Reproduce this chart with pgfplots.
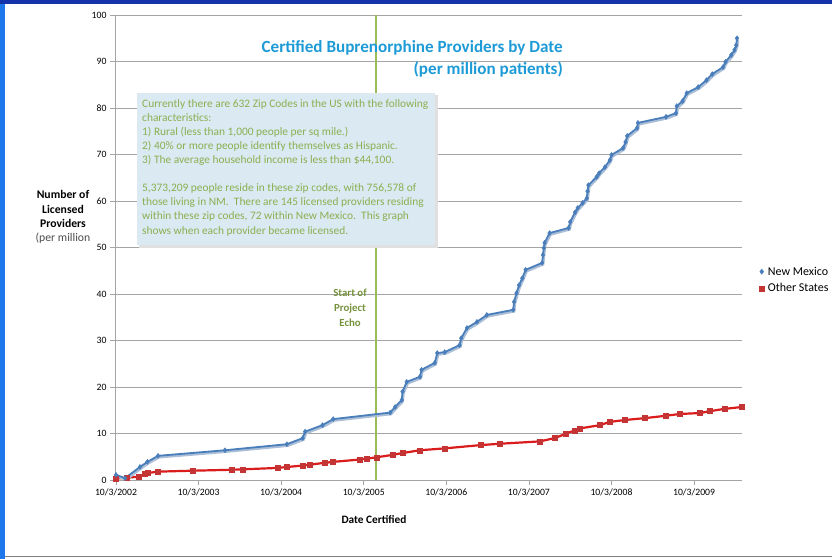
\documentclass[border=0pt]{standalone}
\usepackage{pgfplots}
\pgfplotsset{compat=1.18}
\usepackage{fontspec}
\setmainfont{Carlito}
\definecolor{nmblue}{RGB}{74,126,187}
\definecolor{nmshadow}{RGB}{170,190,215}
\definecolor{osred}{RGB}{218,28,28}
\definecolor{osmark}{RGB}{196,52,52}
\definecolor{echogreen}{RGB}{155,187,89}
\definecolor{echotext}{RGB}{118,146,60}
\definecolor{textgreen}{RGB}{140,175,80}
\definecolor{boxblue}{RGB}{218,233,242}
\definecolor{titleblue}{RGB}{30,155,215}
\definecolor{gridgray}{RGB}{165,165,165}
\definecolor{framedark}{RGB}{20,50,170}
\definecolor{frameblue}{RGB}{30,120,235}
\pgfplotstableread{
t v
0.00 1.1
0.11 0.4
0.29 2.8
0.38 3.9
0.51 5.2
1.32 6.4
2.07 7.7
2.26 9.0
2.29 10.4
2.50 11.8
2.63 13.1
3.32 14.5
3.38 15.7
3.46 17.2
3.47 19.0
3.52 21.1
3.68 22.2
3.70 23.7
3.86 25.2
3.89 27.3
3.98 27.5
4.16 29.0
4.18 30.5
4.25 32.7
4.37 34.0
4.49 35.5
4.81 36.6
4.82 38.3
4.85 40.2
4.88 41.9
4.92 43.4
4.96 45.2
5.16 46.7
5.17 48.4
5.18 49.9
5.19 51.0
5.25 53.1
5.48 54.2
5.50 55.5
5.56 57.6
5.59 58.5
5.65 59.6
5.70 60.6
5.71 62.1
5.72 63.4
5.82 65.2
5.85 66.0
5.92 67.3
5.98 68.8
6.00 69.9
6.14 71.4
6.17 72.7
6.19 74.0
6.31 75.7
6.32 76.8
6.66 78.1
6.78 78.9
6.79 80.4
6.86 81.5
6.91 83.2
7.05 84.5
7.15 86.0
7.22 87.3
7.35 88.8
7.38 89.9
7.45 91.4
7.49 92.5
7.51 93.5
7.52 95.0
}\nmdata
\pgfplotstableread{
t v
0.00 0.3
0.13 0.5
0.27 0.7
0.35 1.3
0.38 1.5
0.51 1.8
0.93 2.0
1.40 2.2
1.54 2.3
1.96 2.6
2.07 2.8
2.26 3.1
2.35 3.3
2.53 3.7
2.63 3.9
2.95 4.4
3.04 4.6
3.16 4.9
3.35 5.4
3.47 5.8
3.68 6.4
3.98 6.8
4.41 7.5
4.65 7.8
5.13 8.3
5.31 9.0
5.44 9.9
5.56 10.7
5.62 11.1
5.86 11.8
5.98 12.5
6.16 12.9
6.40 13.3
6.65 13.8
6.83 14.2
7.07 14.4
7.19 14.8
7.37 15.3
7.58 15.7
}\osdata
\begin{document}
\begin{tikzpicture}
\useasboundingbox (0,0) rectangle (832pt,-559pt);
\fill[white] (0,0) rectangle (832pt,-559pt);
\fill[frameblue] (0,0) rectangle (5pt,-559pt);
\fill[framedark] (0,0) rectangle (832pt,-4pt);
\draw[gray, line width=1pt] (5pt,-556pt) -- (832pt,-556pt);
\begin{axis}[
  at={(115pt,-480pt)}, anchor=south west,
  scale only axis, width=627pt, height=465pt,
  xmin=-0.012, xmax=7.58, ymin=0, ymax=100,
  xtick={0,1,2,3,4,5,6,7},
  xticklabels={10/3/2002,10/3/2003,10/3/2004,10/3/2005,10/3/2006,10/3/2007,10/3/2008,10/3/2009},
  ytick={0,10,...,100},
  ymajorgrids, grid style={gridgray, line width=0.8pt},
  axis x line*=bottom, axis y line*=left,
  axis line style={gridgray, line width=0.8pt},
  tick style={gridgray, line width=0.8pt}, tick align=outside, major tick length=5pt,
  ticklabel style={font=\fontsize{9.7}{11}\selectfont, text=black},
  /pgf/number format/assume math mode=true,
  clip=false,
  legend style={at={(1.027,0.43)}, anchor=west, draw=none, fill=none,
    font=\fontsize{12}{13}\selectfont, row sep=5pt, inner sep=0pt,
    nodes={inner xsep=3.5pt, inner ysep=1pt}},
  legend cell align=left,
  legend image code/.code={\draw[#1, only marks] plot coordinates {(3pt,0pt)};},
]
\addlegendimage{only marks, mark=diamond*, mark size=2.6pt, color=nmblue}
\addlegendentry{New Mexico}
\addlegendimage{only marks, mark=square*, mark size=2.6pt, color=osmark}
\addlegendentry{Other States}
\addplot[forget plot, echogreen, line width=2.5pt] coordinates {(3.148,0) (3.148,100)};
\addplot[forget plot, osred, line width=2.2pt, mark=square*, mark size=2.5pt,
  mark options={fill=osmark, draw=osmark, line width=0.4pt}] table[x=t,y=v] {\osdata};
\addplot[forget plot, nmshadow, line width=2.4pt, xshift=1pt, yshift=-1.5pt] table[x=t,y=v] {\nmdata};
\addplot[forget plot, nmblue, line width=1.8pt, mark=diamond*, mark size=2.5pt,
  mark options={fill=nmblue, draw=nmblue, line width=0.4pt}] table[x=t,y=v] {\nmdata};
\end{axis}
% title
\node[anchor=base east, inner sep=0pt, text=titleblue, font=\bfseries\fontsize{17.1}{20}\selectfont] at (563pt,-53pt) {Certified Buprenorphine Providers by Date};
\node[anchor=base east, inner sep=0pt, text=titleblue, font=\bfseries\fontsize{17.1}{20}\selectfont] at (563pt,-75pt) {(per million patients)};
% text box
\fill[black!12] (139pt,-95pt) rectangle (438pt,-248pt);
\fill[boxblue] (137pt,-93pt) rectangle (435pt,-245pt);
\node[anchor=north west, inner sep=0pt, align=left, text=textgreen,
  font=\fontsize{11.4}{14.1}\selectfont] at (142pt,-99pt)
  {Currently there are 632 Zip Codes in the US with the following\\
   characteristics:\\
   1) Rural (less than 1,000 people per sq mile.)\\
   2) 40\% or more people identify themselves as Hispanic.\\
   3) The average household income is less than \$44,100.\\[14.1pt]
   5,373,209 people reside in these zip codes, with 756,578 of\\
   those living in NM.\ \ There are 145 licensed providers residing\\
   within these zip codes, 72 within New Mexico.\ \ This graph\\
   shows when each provider became licensed.};
% echo label
\node[align=center, inner sep=0pt, text=echotext, font=\bfseries\fontsize{10.8}{15}\selectfont] at (350pt,-308pt) {Start of\\Project\\Echo};
% axis labels
\node[align=center, inner sep=0pt, font=\fontsize{11.7}{14.3}\selectfont] at (63pt,-217pt)
  {\textbf{Number of}\\\textbf{Licensed}\\\textbf{Providers}\\\textcolor{black!70}{(per million}};
\node[inner sep=0pt, font=\bfseries\fontsize{11.3}{13}\selectfont] at (374pt,-520pt) {Date Certified};
\end{tikzpicture}
\end{document}
